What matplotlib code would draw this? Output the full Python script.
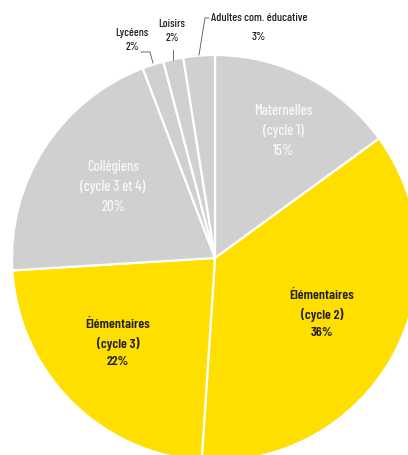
import matplotlib
matplotlib.use("Agg")
import matplotlib.pyplot as plt
from matplotlib import font_manager

names = {f.name for f in font_manager.fontManager.ttflist}
FAM = ['Barlow Condensed', 'DejaVu Sans'] if 'Barlow Condensed' in names else ['DejaVu Sans']

categories = ["Maternelles\n(cycle 1)", "Élémentaires\n(cycle 2)", "Élémentaires\n(cycle 3)",
              "Collégiens\n(cycle 3 et 4)", "Lycéens", "Loisirs", "Adultes com. éducative"]
values = [15, 36.1, 23, 20.2, 1.7, 1.6, 2.5]
pct_labels = ["15%", "36%", "22%", "20%", "2%", "2%", "3%"]
colors = ["#D1D0D1", "#FFDF00", "#FFDF00", "#D1D0D1", "#D1D0D1", "#D1D0D1", "#D1D0D1"]

W, H = 408, 455
fig = plt.figure(figsize=(W / 100, H / 100), dpi=100)
ax = fig.add_axes([0, 0, 1, 1])

cx, cy, R = 215, H - 258, 203
ax.pie(values, colors=colors, startangle=90, counterclock=False, radius=R, center=(cx, cy),
       wedgeprops=dict(edgecolor='white', linewidth=1.6), frame=True)
ax.set_xlim(0, W)
ax.set_ylim(0, H)
ax.set_aspect('equal')
ax.axis('off')

def Y(y):
    return H - y

inside = [(0, 283, 131, '#F7F7F7', 500, 10.5),
          (1, 322, 314, '#231F20', 600, 10),
          (2, 118, 343, '#231F20', 600, 10),
          (3, 113, 187, '#F7F7F7', 500, 10.5)]
for i, x, y, col, wt, fs in inside:
    ax.text(x, Y(y), categories[i] + "\n" + pct_labels[i], ha='center', va='center',
            color=col, fontsize=fs, fontweight=wt, family=FAM, linespacing=1.55)

# small outside labels
ax.text(132, Y(40), categories[4] + "\n" + pct_labels[4], ha='center', va='center',
        fontsize=8.3, fontweight=500, color='#231F20', family=FAM, linespacing=1.45)
ax.plot([141, 150, 153], [Y(52), Y(52), Y(63)], color='#555555', lw=0.6)
ax.text(172, Y(31), categories[5] + "\n" + pct_labels[5], ha='center', va='center',
        fontsize=8.3, fontweight=500, color='#231F20', family=FAM, linespacing=1.55)
ax.plot([173, 173], [Y(50), Y(60)], color='#555555', lw=0.6)
ax.text(259, Y(18), categories[6], ha='center', va='center',
        fontsize=8.6, fontweight=500, color='#231F20', family=FAM)
ax.text(259, Y(37), pct_labels[6], ha='center', va='center',
        fontsize=8.6, fontweight=500, color='#231F20', family=FAM)
ax.plot([209, 205, 199], [Y(18), Y(18), Y(55)], color='#555555', lw=0.6)

fig.savefig("out.png", dpi=100, facecolor='white')
